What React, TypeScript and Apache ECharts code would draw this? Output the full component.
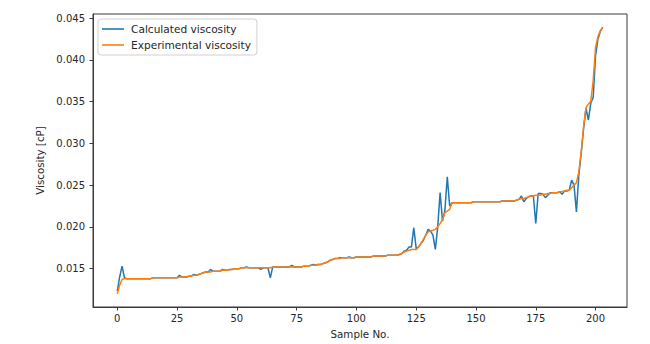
import React, { useEffect, useRef } from "react";
import * as echarts from "echarts";

const seriesNames = ["Calculated viscosity", "Experimental viscosity"];
const xTicks = [0, 25, 50, 75, 100, 125, 150, 175, 200];
const yTicks = [0.015, 0.02, 0.025, 0.03, 0.035, 0.04, 0.045];

const calculated = [
  0.0123, 0.0140, 0.0153, 0.0139, 0.0138, 0.0138, 0.0138, 0.0138, 0.0138, 0.0138,
  0.0138, 0.0138, 0.0138, 0.0138, 0.0138, 0.0139, 0.0139, 0.0139, 0.0139, 0.0139,
  0.0139, 0.0139, 0.0139, 0.0139, 0.0139, 0.0139, 0.0142, 0.0140, 0.0140, 0.0140,
  0.0141, 0.0141, 0.0143, 0.0142, 0.0143, 0.0144, 0.0145, 0.0146, 0.0146, 0.0149,
  0.0147, 0.0147, 0.0147, 0.0147, 0.0149, 0.0148, 0.0148, 0.0149, 0.0149, 0.0150,
  0.0150, 0.0150, 0.0151, 0.0151, 0.0152, 0.0151, 0.0151, 0.0151, 0.0151, 0.0151,
  0.0149, 0.0151, 0.0151, 0.0151, 0.0139, 0.0152, 0.0152, 0.0152, 0.0152, 0.0152,
  0.0152, 0.0152, 0.0152, 0.0154, 0.0152, 0.0152, 0.0152, 0.0152, 0.0153, 0.0153,
  0.0153, 0.0154, 0.0155, 0.0154, 0.0155, 0.0155, 0.0156, 0.0157, 0.0158, 0.0160,
  0.0161, 0.0162, 0.0162, 0.0163, 0.0163, 0.0163, 0.0163, 0.0164, 0.0163, 0.0163,
  0.0164, 0.0164, 0.0164, 0.0164, 0.0164, 0.0164, 0.0164, 0.0165, 0.0165, 0.0165,
  0.0165, 0.0165, 0.0165, 0.0166, 0.0166, 0.0166, 0.0166, 0.0166, 0.0167, 0.0168,
  0.0171, 0.0172, 0.0176, 0.0176, 0.0199, 0.0174, 0.0176, 0.0180, 0.0184, 0.0190,
  0.0197, 0.0195, 0.0190, 0.0173, 0.0200, 0.0241, 0.0207, 0.0220, 0.0260, 0.0225,
  0.0229, 0.0229, 0.0229, 0.0229, 0.0229, 0.0229, 0.0229, 0.0229, 0.0229, 0.0230,
  0.0230, 0.0230, 0.0230, 0.0230, 0.0230, 0.0230, 0.0230, 0.0230, 0.0230, 0.0230,
  0.0230, 0.0231, 0.0231, 0.0231, 0.0231, 0.0231, 0.0231, 0.0232, 0.0233, 0.0237,
  0.0230, 0.0234, 0.0236, 0.0237, 0.0237, 0.0204, 0.0240, 0.0240, 0.0239, 0.0235,
  0.0238, 0.0241, 0.0241, 0.0241, 0.0241, 0.0242, 0.0239, 0.0243, 0.0243, 0.0244,
  0.0256, 0.0250, 0.0218, 0.0262, 0.0288, 0.0318, 0.0342, 0.0328, 0.0348, 0.0355,
  0.0405, 0.0425, 0.0434, 0.0439,
];

const experimental = [
  0.0120, 0.0130, 0.0137, 0.0138, 0.0138, 0.0138, 0.0138, 0.0138, 0.0138, 0.0138,
  0.0138, 0.0138, 0.0138, 0.0138, 0.0138, 0.0139, 0.0139, 0.0139, 0.0139, 0.0139,
  0.0139, 0.0139, 0.0139, 0.0139, 0.0139, 0.0139, 0.0140, 0.0140, 0.0140, 0.0140,
  0.0141, 0.0141, 0.0142, 0.0142, 0.0143, 0.0144, 0.0145, 0.0146, 0.0146, 0.0146,
  0.0147, 0.0147, 0.0147, 0.0147, 0.0148, 0.0148, 0.0148, 0.0149, 0.0149, 0.0150,
  0.0150, 0.0150, 0.0151, 0.0151, 0.0151, 0.0151, 0.0151, 0.0151, 0.0151, 0.0151,
  0.0151, 0.0151, 0.0151, 0.0151, 0.0151, 0.0152, 0.0152, 0.0152, 0.0152, 0.0152,
  0.0152, 0.0152, 0.0152, 0.0152, 0.0152, 0.0152, 0.0152, 0.0152, 0.0153, 0.0153,
  0.0153, 0.0154, 0.0154, 0.0154, 0.0155, 0.0155, 0.0156, 0.0157, 0.0158, 0.0160,
  0.0161, 0.0162, 0.0162, 0.0162, 0.0163, 0.0163, 0.0163, 0.0163, 0.0163, 0.0163,
  0.0164, 0.0164, 0.0164, 0.0164, 0.0164, 0.0164, 0.0164, 0.0165, 0.0165, 0.0165,
  0.0165, 0.0165, 0.0165, 0.0166, 0.0166, 0.0166, 0.0166, 0.0166, 0.0167, 0.0168,
  0.0170, 0.0171, 0.0172, 0.0173, 0.0173, 0.0173, 0.0176, 0.0180, 0.0185, 0.0190,
  0.0194, 0.0195, 0.0196, 0.0197, 0.0200, 0.0204, 0.0209, 0.0217, 0.0219, 0.0221,
  0.0229, 0.0229, 0.0229, 0.0229, 0.0229, 0.0229, 0.0229, 0.0229, 0.0229, 0.0230,
  0.0230, 0.0230, 0.0230, 0.0230, 0.0230, 0.0230, 0.0230, 0.0230, 0.0230, 0.0230,
  0.0230, 0.0231, 0.0231, 0.0231, 0.0231, 0.0231, 0.0231, 0.0232, 0.0233, 0.0234,
  0.0234, 0.0235, 0.0236, 0.0237, 0.0237, 0.0238, 0.0238, 0.0238, 0.0239, 0.0239,
  0.0240, 0.0240, 0.0241, 0.0241, 0.0241, 0.0242, 0.0242, 0.0243, 0.0244, 0.0244,
  0.0247, 0.0250, 0.0253, 0.0266, 0.0290, 0.0320, 0.0343, 0.0347, 0.0350, 0.0375,
  0.0415, 0.0428, 0.0435, 0.0439,
];

const FONT = "DejaVu Sans";
const TEXT = "#262626";
const AXIS = "#3a3a3a";

export default function App() {
  const ref = useRef<HTMLDivElement>(null);
  useEffect(() => {
    if (!ref.current) return;
    const chart = echarts.init(ref.current, null, { renderer: "svg" });
    const n = experimental.length;
    const allVals = calculated.concat(experimental);
    const yMinD = Math.min(...allVals);
    const yMaxD = Math.max(...allVals);
    const yPad = (yMaxD - yMinD) * 0.05;
    const xPad = (n - 1) * 0.05;
    const toPairs = (arr: number[]) => arr.map((v, i) => [i, v]);
    chart.setOption({
      animation: false,
      backgroundColor: "#ffffff",
      textStyle: { fontFamily: FONT },
      grid: {
        left: 93,
        right: 23,
        top: 14,
        bottom: 35,
        show: true,
        borderColor: AXIS,
        borderWidth: 1,
        backgroundColor: "transparent",
      },
      legend: {
        data: seriesNames,
        orient: "vertical",
        left: 98,
        top: 19,
        icon: "rect",
        itemWidth: 22,
        itemHeight: 1.6,
        itemGap: 4,
        padding: [4, 6, 4, 4],
        backgroundColor: "rgba(255,255,255,0.8)",
        borderColor: "#d0d0d0",
        borderWidth: 1,
        borderRadius: 3,
        textStyle: {
          fontFamily: FONT,
          fontSize: 10.6,
          color: TEXT,
          lineHeight: 12,
          padding: [0, 0, 0, 2],
        },
      },
      xAxis: {
        type: "value",
        min: -xPad,
        max: n - 1 + xPad,
        name: "Sample No.",
        nameLocation: "middle",
        nameGap: 22,
        nameTextStyle: { fontFamily: FONT, fontSize: 10.3, color: TEXT },
        axisLine: { show: true, onZero: false, lineStyle: { color: AXIS, width: 1 } },
        axisTick: {
          show: true,
          inside: false,
          length: 3.5,
          lineStyle: { color: AXIS, width: 1 },
          customValues: xTicks,
        },
        axisLabel: {
          show: true,
          margin: 6,
          fontFamily: FONT,
          fontSize: 10,
          color: TEXT,
          customValues: xTicks,
          formatter: (v: number) => String(v),
        },
        splitLine: { show: false },
      },
      yAxis: {
        type: "value",
        min: yMinD - yPad,
        max: yMaxD + yPad,
        name: "Viscosity [cP]",
        nameLocation: "middle",
        nameGap: 46,
        nameTextStyle: { fontFamily: FONT, fontSize: 10.3, color: TEXT },
        axisLine: { show: true, onZero: false, lineStyle: { color: AXIS, width: 1 } },
        axisTick: {
          show: true,
          inside: false,
          length: 3.5,
          lineStyle: { color: AXIS, width: 1 },
          customValues: yTicks,
        },
        axisLabel: {
          show: true,
          margin: 8,
          fontFamily: FONT,
          fontSize: 10,
          color: TEXT,
          customValues: yTicks,
          formatter: (v: number) => v.toFixed(3),
        },
        splitLine: { show: false },
      },
      series: [
        {
          name: seriesNames[0],
          type: "line",
          data: toPairs(calculated),
          symbol: "none",
          showSymbol: false,
          color: "#1f77b4",
          lineStyle: { color: "#1f77b4", width: 1.5 },
          z: 2,
        },
        {
          name: seriesNames[1],
          type: "line",
          data: toPairs(experimental),
          symbol: "none",
          showSymbol: false,
          color: "#ff7f0e",
          lineStyle: { color: "#ff7f0e", width: 1.5 },
          z: 3,
        },
      ],
    });
    return () => chart.dispose();
  }, []);
  return (
    <div
      ref={ref}
      style={{ position: "fixed", left: 0, top: 0, width: 650, height: 344, background: "#fff" }}
    />
  );
}
